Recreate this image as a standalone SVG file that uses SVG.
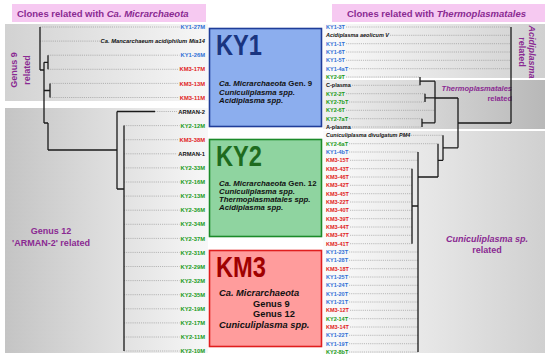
<svg xmlns="http://www.w3.org/2000/svg" width="550" height="358" viewBox="0 0 550 358">
<defs>
<linearGradient id="gL" x1="0" x2="1" y1="0" y2="0"><stop offset="0" stop-color="#c4c4c4"/><stop offset="1" stop-color="#f7f7f7"/></linearGradient>
<linearGradient id="gL9" x1="0" x2="1" y1="0" y2="0"><stop offset="0" stop-color="#d2d2d2"/><stop offset="1" stop-color="#f7f7f7"/></linearGradient>
<linearGradient id="gR" x1="0" x2="1" y1="0" y2="0"><stop offset="0" stop-color="#fbfbfb"/><stop offset="1" stop-color="#d0d0d0"/></linearGradient>
<linearGradient id="gT" x1="0" x2="1" y1="0" y2="0"><stop offset="0" stop-color="#f0f0f0"/><stop offset="1" stop-color="#b8b8b8"/></linearGradient>
<style>
text{font-family:"Liberation Sans",Arial,sans-serif;font-weight:bold}
.lab{font-size:5.8px}
.rl{font-size:5.5px}
.it{font-style:italic}
.b{fill:#2f6fd6}.r{fill:#e11b1b}.g{fill:#179a17}.k{fill:#111}
.dot{stroke:#8a8a8a;stroke-width:0.7;stroke-dasharray:0.8 1.1;fill:none}
.tr{stroke:#1a1a1a;stroke-width:1.3;fill:none}
.hd{font-size:9.5px;fill:#8a2a92}
.pl{font-size:9px;fill:#8a2a92}
.bt{font-size:7.8px;fill:#111}
.kt{font-size:9.3px;fill:#111}
.big{font-size:30px}
</style>
</defs>
<rect width="550" height="358" fill="#fff"/>
<g id="panels">
<rect x="5" y="24" width="203" height="77" fill="url(#gL9)"/>
<rect x="5" y="108" width="203" height="245" fill="url(#gL)"/>
<rect x="323" y="24" width="222" height="54" fill="url(#gR)"/>
<rect x="323" y="80" width="222" height="49" fill="url(#gT)"/>
<rect x="323" y="131" width="222" height="222" fill="url(#gR)"/>
<rect x="12" y="4" width="194" height="18" fill="#f6c9f1"/>
<rect x="332" y="4" width="213" height="18" fill="#f6c9f1"/>
<text class="hd" x="17" y="17">Clones related with  <tspan class="it">Ca. Micrarchaeota</tspan></text>
<text class="hd" x="347" y="17">Clones related with  <tspan class="it">Thermoplasmatales</tspan></text>
<text class="pl" transform="translate(17,70) rotate(-90)" text-anchor="middle">Genus 9</text>
<text class="pl" transform="translate(30,70) rotate(-90)" text-anchor="middle">related</text>
<text class="pl" x="51" y="234" text-anchor="middle">Genus 12</text>
<text class="pl" x="51" y="246" text-anchor="middle">'ARMAN-2' related</text>
<text class="pl it" transform="translate(529,52) rotate(90)" text-anchor="middle">Acidiplasma</text>
<text class="pl" transform="translate(519,52) rotate(90)" text-anchor="middle">related</text>
<text class="pl it" x="512" y="91" text-anchor="end" style="font-size:7.5px">Thermoplasmatales</text>
<text class="pl" x="512" y="101" text-anchor="end" style="font-size:7.5px">related</text>
<text class="pl it" x="487" y="241.5" text-anchor="middle">Cuniculiplasma sp.</text>
<text class="pl" x="487" y="252.5" text-anchor="middle">related</text>
</g>
<g id="KY1">
<rect x="209.5" y="28.5" width="112" height="98" fill="#8caeee" stroke="#1f3d99" stroke-width="1.6"/>
<text class="big" x="216" y="55" fill="#1a3580" textLength="46" lengthAdjust="spacingAndGlyphs">KY1</text>
<text class="bt" x="219" y="86"><tspan class="it">Ca. Micrarchaeota</tspan> Gen. 9</text>
<text class="bt it" x="219" y="94.5">Cuniculiplasma spp.</text>
<text class="bt it" x="219" y="103">Acidiplasma spp.</text>
</g>
<g id="KY2">
<rect x="209.5" y="139.5" width="112" height="97" fill="#8fd4a0" stroke="#1b8a2a" stroke-width="1.6"/>
<text class="big" x="216" y="166" fill="#1e6b1e" textLength="46" lengthAdjust="spacingAndGlyphs">KY2</text>
<text class="bt" x="219" y="186"><tspan class="it">Ca. Micrarchaeota</tspan> Gen. 12</text>
<text class="bt it" x="219" y="194">Cuniculiplasma spp.</text>
<text class="bt it" x="219" y="202">Thermoplasmatales spp.</text>
<text class="bt it" x="219" y="210">Acidiplasma spp.</text>
</g>
<g id="KM3">
<rect x="209.5" y="250.5" width="112" height="96" fill="#ff9c9c" stroke="#e01e1e" stroke-width="1.6"/>
<text class="big" x="216" y="277" fill="#a00000" textLength="50" lengthAdjust="spacingAndGlyphs">KM3</text>
<text class="kt it" x="219" y="296">Ca. Micrarchaeota</text>
<text class="kt" x="253" y="306.5">Genus 9</text>
<text class="kt" x="253" y="317">Genus 12</text>
<text class="kt it" x="219" y="327.5">Cuniculiplasma spp.</text>
</g>
<g id="leftlabels" class="lab" text-anchor="end">
<text class="b" x="205" y="29.1">KY1-27M</text>
<text class="k it" x="205" y="43.2">Ca. Mancarchaeum acidiphilum Mia14</text>
<text class="b" x="205" y="57.3">KY1-26M</text>
<text class="r" x="205" y="71.4">KM3-17M</text>
<text class="r" x="205" y="85.5">KM3-13M</text>
<text class="r" x="205" y="99.6">KM3-11M</text>
<text class="k" x="205" y="113.6">ARMAN-2</text>
<text class="g" x="205" y="127.7">KY2-12M</text>
<text class="r" x="205" y="141.8">KM3-38M</text>
<text class="k" x="205" y="155.9">ARMAN-1</text>
<text class="g" x="205" y="170">KY2-33M</text>
<text class="g" x="205" y="184.1">KY2-16M</text>
<text class="g" x="205" y="198.2">KY2-13M</text>
<text class="g" x="205" y="212.3">KY2-36M</text>
<text class="g" x="205" y="226.4">KY2-34M</text>
<text class="g" x="205" y="240.5">KY2-37M</text>
<text class="g" x="205" y="254.5">KY2-31M</text>
<text class="g" x="205" y="268.6">KY2-29M</text>
<text class="g" x="205" y="282.7">KY2-32M</text>
<text class="g" x="205" y="296.8">KY2-35M</text>
<text class="g" x="205" y="310.9">KY2-19M</text>
<text class="g" x="205" y="325">KY2-17M</text>
<text class="g" x="205" y="339.1">KY2-11M</text>
<text class="g" x="205" y="353.1">KY2-10M</text>
</g>
<g id="rightlabels" class="rl">
<text class="b" x="326" y="29">KY1-3T</text>
<text class="k it" x="326" y="37.3">Acidiplasma aeolicum V</text>
<text class="b" x="326" y="45.7">KY1-1T</text>
<text class="b" x="326" y="54">KY1-6T</text>
<text class="b" x="326" y="62.3">KY1-5T</text>
<text class="b" x="326" y="70.7">KY1-4aT</text>
<text class="g" x="326" y="79">KY2-9T</text>
<text class="k" x="326" y="87.3">C-plasma</text>
<text class="g" x="326" y="95.7">KY2-2T</text>
<text class="g" x="326" y="104">KY2-7bT</text>
<text class="g" x="326" y="112.3">KY2-6T</text>
<text class="g" x="326" y="120.7">KY2-7aT</text>
<text class="k" x="326" y="129">A-plasma</text>
<text class="k it" x="326" y="137.3">Cuniculiplasma divulgatum PM4</text>
<text class="g" x="326" y="145.7">KY2-6aT</text>
<text class="b" x="326" y="154">KY1-4bT</text>
<text class="r" x="326" y="162.3">KM3-15T</text>
<text class="r" x="326" y="170.7">KM3-43T</text>
<text class="r" x="326" y="179">KM3-46T</text>
<text class="r" x="326" y="187.3">KM3-42T</text>
<text class="r" x="326" y="195.7">KM3-45T</text>
<text class="r" x="326" y="204">KM3-22T</text>
<text class="r" x="326" y="212.3">KM3-40T</text>
<text class="r" x="326" y="220.7">KM3-39T</text>
<text class="r" x="326" y="229">KM3-44T</text>
<text class="r" x="326" y="237.3">KM3-47T</text>
<text class="r" x="326" y="245.7">KM3-41T</text>
<text class="b" x="326" y="254">KY1-23T</text>
<text class="b" x="326" y="262.3">KY1-28T</text>
<text class="r" x="326" y="270.7">KM3-18T</text>
<text class="b" x="326" y="279">KY1-25T</text>
<text class="b" x="326" y="287.3">KY1-24T</text>
<text class="b" x="326" y="295.7">KY1-20T</text>
<text class="b" x="326" y="304">KY1-21T</text>
<text class="r" x="326" y="312.3">KM3-12T</text>
<text class="g" x="326" y="320.7">KY2-14T</text>
<text class="r" x="326" y="329">KM3-14T</text>
<text class="b" x="326" y="337.3">KY1-22T</text>
<text class="b" x="326" y="345.7">KY1-19T</text>
<text class="g" x="326" y="354">KY2-8bT</text>
</g>
<g id="connectors">
<path class="dot" d="M40,27H179.5M40,41.1H100M48,55.2H179.5M48,69.3H178.5M50,83.4H178.5M50,97.5H178.5M155,111.5H177.3M124,125.6H179.5M124,139.7H178.5M124,153.8H177.3M124,167.9H179.5M124,182H179.5M124,196.1H179.5M124,210.2H179.5M124,224.3H179.5M124,238.4H179.5M124,252.4H179.5M124,266.5H179.5M124,280.6H179.5M124,294.7H179.5M124,308.8H179.5M124,322.9H179.5M124,337H179.5M124,351H179.5"/>
<path class="tr" d="M40,27V70M40,70H44M44,62.3V123M44,62.3H48M48,55.2V69.3M44,90.5H50M50,83.4V97.5M44,123H48M48,123V150M48,150H117M117,111.5V189M117,111.5H155M117,189H124M124,125.6V351"/>
<path class="dot" d="M346,27H510M390,35.3H510M346,43.7H510M346,52H510M346,60.3H510M349,68.7H510M346,77H420M352,85.3H420M346,93.7H425M349,102H425M346,110.3H435M349,118.7H422M352,127H422M411,135.3H443M349,143.7H438M349,152H418M350,160.3H418M350,168.7H412M350,177H412M350,185.3H412M350,193.7H412M350,202H412M350,210.3H412M350,218.7H412M350,227H412M350,235.3H412M350,243.7H412M349,252H418M349,260.3H418M350,268.7H418M349,277H418M349,285.3H418M349,293.7H418M349,302H418M350,310.3H418M349,318.7H418M350,327H418M349,335.3H418M349,343.7H418M349,352H418"/>
<path class="tr" d="M511,27V123M458,123H511M458,98V147.8M435,98H458M435,81.2V122.8M420,77V85.3M420,81.2H435M425,93.7V102M425,97.8H435M422,118.7V127M422,122.8H435M443,147.8H458M443,135.3V160.3M438,160.3H443M438,143.7V177M418,177H438M418,152V352M412,168.7V243.7M412,206H418"/>
</g>
</svg>
